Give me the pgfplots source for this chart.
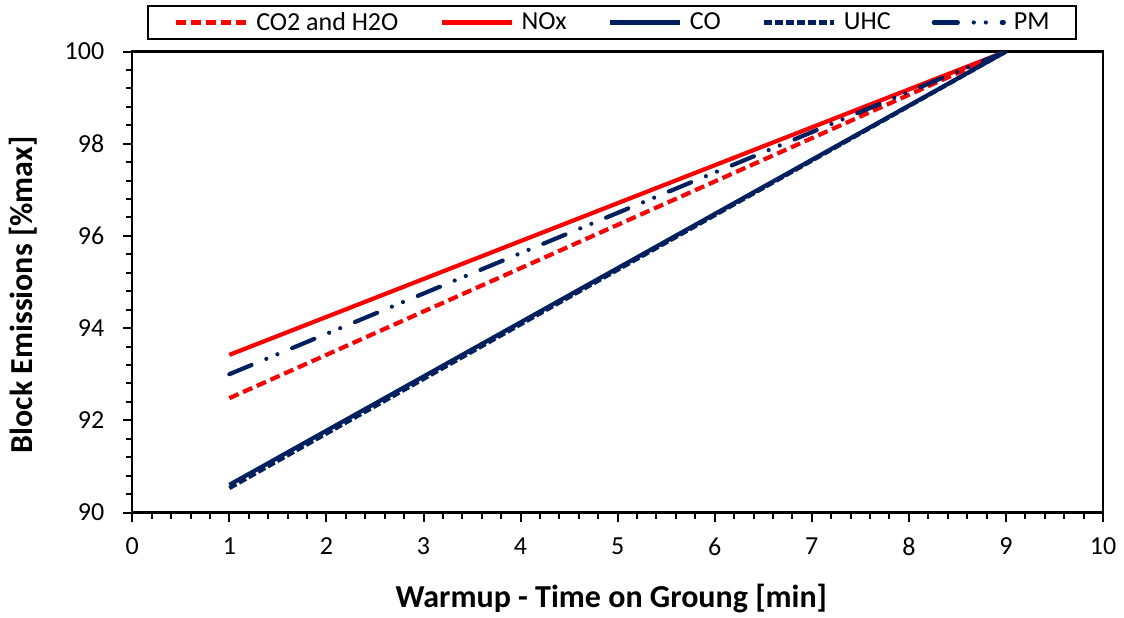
\documentclass[border=0pt]{standalone}
\usepackage{fontspec}
\setmainfont{Carlito}
\usepackage{pgfplots}
\pgfplotsset{compat=1.18}
\definecolor{exred}{RGB}{255,0,0}
\definecolor{exnavy}{RGB}{0,32,96}
\begin{document}
\begin{tikzpicture}
\begin{axis}[
  scale only axis,
  width=485.35pt, height=230.5pt,
  xmin=0, xmax=10, ymin=90, ymax=100,
  xtick={0,1,...,10}, ytick={90,92,...,100},
  minor x tick num=4, minor y tick num=4,
  tick pos=left, tick align=outside,
  major tick length=4.5pt, minor tick length=3pt,
  every tick/.style={black, line width=1pt},
  axis line style={line width=1.1pt},
  /pgf/number format/assume math mode=true,
  tick label style={font=\fontsize{13}{15}\selectfont},
  xticklabel style={yshift=-4.5pt},
  yticklabel style={xshift=-6pt},
  xlabel={\textbf{Warmup - Time on Groung [min]}},
  ylabel={\textbf{Block Emissions [\%max]}},
  xlabel style={font=\fontsize{16}{19}\selectfont, at={(axis description cs:0.4935,-0.1866)}, anchor=center},
  ylabel style={font=\fontsize{16}{19}\selectfont, at={(axis description cs:-0.1121,0.472)}, anchor=center, rotate=0},
  legend columns=5,
  legend image code/.code={\draw[#1] (0pt,0pt) -- (35pt,0pt);},
  legend style={at={(axis description cs:0.494,1)}, anchor=south, yshift=5.75pt,
    draw=black, line width=1pt, inner xsep=13pt, inner ysep=2pt,
    font=\fontsize{13}{15}\selectfont,
    nodes={inner xsep=0pt, inner ysep=1pt},
    /tikz/every odd column/.style={column sep=4pt},
    /tikz/every even column/.style={column sep=20.5pt}},
]
\addplot[exred, line width=2.1pt, dash pattern=on 5pt off 2.5pt] coordinates {(1,92.48) (9,100)};
\addlegendentry{CO2 and H2O}
\addplot[exred, line width=2.1pt] coordinates {(1,93.42) (9,100)};
\addlegendentry{NOx}
\addplot[exnavy, line width=2.1pt] coordinates {(1,90.60) (9,100)};
\addlegendentry{CO}
\addplot[exnavy, line width=2.1pt, dash pattern=on 4pt off 1.5pt] coordinates {(1,90.53) (9,100)};
\addlegendentry{UHC}
\addplot[exnavy, line width=2.1pt, line cap=round, dash pattern=on 12pt off 8pt on 0pt off 6pt on 0pt off 8pt] coordinates {(1,93.00) (9,100)};
\addlegendentry{PM}
\coordinate (bl) at (rel axis cs:0,0);
\coordinate (tr) at (rel axis cs:1,1);
\end{axis}
\pgfresetboundingbox
\path ([shift={(-66.15pt,-52.25pt)}]bl) rectangle ([shift={(10.5pt,25.75pt)}]tr);
\end{tikzpicture}
\end{document}
